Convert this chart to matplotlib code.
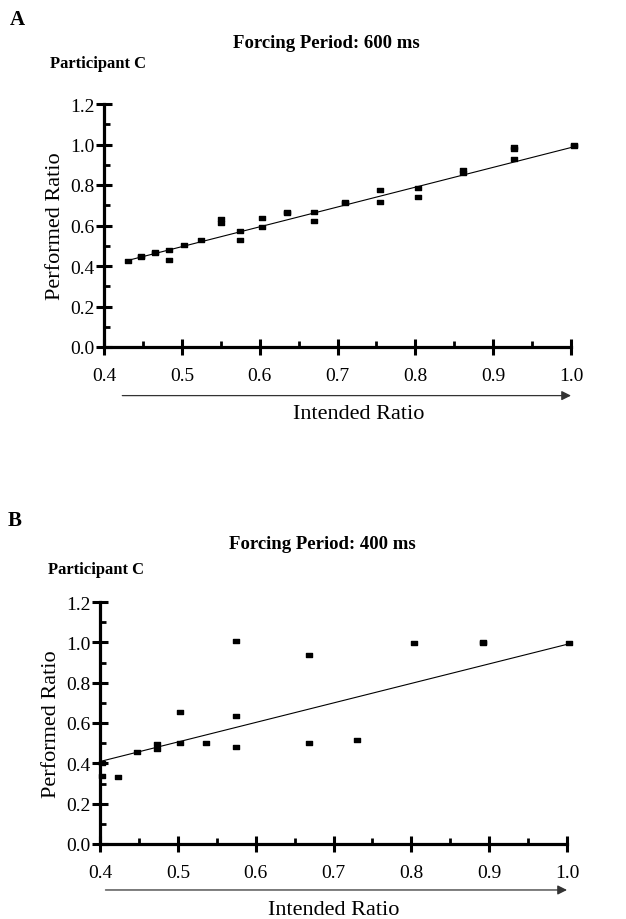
import matplotlib
matplotlib.use("Agg")
import matplotlib.pyplot as plt
from matplotlib.path import Path
from matplotlib.ticker import MultipleLocator

plt.rcParams["font.family"] = ["Liberation Serif", "DejaVu Serif"]

# --- data ------------------------------------------------------------------
a_x = [0.431, 0.447, 0.447, 0.465, 0.465, 0.483, 0.483, 0.503, 0.525,
       0.550, 0.550, 0.575, 0.575, 0.603, 0.603, 0.635, 0.635, 0.670, 0.670,
       0.709, 0.709, 0.754, 0.754, 0.804, 0.804, 0.861, 0.861,
       0.927, 0.927, 0.927, 1.004, 1.004]
a_y = [0.427, 0.445, 0.450, 0.462, 0.468, 0.477, 0.432, 0.506, 0.529,
       0.633, 0.612, 0.572, 0.526, 0.636, 0.593, 0.662, 0.666, 0.666, 0.621,
       0.712, 0.718, 0.776, 0.718, 0.784, 0.740, 0.876, 0.857,
       0.990, 0.978, 0.929, 0.993, 0.998]
a_fit_x = [0.428, 1.000]
a_fit_y = [0.425, 0.985]

b_x = [0.402, 0.402, 0.423, 0.447, 0.473, 0.473, 0.503, 0.503, 0.536,
       0.575, 0.575, 0.575, 0.669, 0.669, 0.730, 0.803, 0.892, 0.892, 1.003]
b_y = [0.339, 0.400, 0.331, 0.455, 0.497, 0.472, 0.657, 0.500, 0.500,
       1.007, 0.636, 0.483, 0.935, 0.503, 0.516, 0.995, 0.995, 1.000, 0.995]
b_fit_x = [0.400, 1.000]
b_fit_y = [0.409, 0.990]

x_ticks = [0.4, 0.5, 0.6, 0.7, 0.8, 0.9, 1.0]
y_ticks = [0.0, 0.2, 0.4, 0.6, 0.8, 1.0, 1.2]

# small flat rectangle marker, like the printed dashes
DASH = Path([(-1, -0.6), (1, -0.6), (1, 0.6), (-1, 0.6), (-1, -0.6)],
            [Path.MOVETO, Path.LINETO, Path.LINETO, Path.LINETO, Path.CLOSEPOLY])

W, H = 626, 920
fig = plt.figure(figsize=(W / 100, H / 100), dpi=100)


def _box(left, top, right, bottom):
    return [left / W, 1 - bottom / H, (right - left) / W, (bottom - top) / H]


def _panel(box, xs, ys, fx, fy, arrow_x0, arrow_y, label_x, label_y):
    ax = fig.add_axes(box)
    ax.plot(fx, fy, color="black", lw=0.8)
    ax.plot(xs, ys, ls="none", marker=DASH, ms=4.2, color="black", clip_on=False)
    ax.set_xlim(0.4, 1.0)
    ax.set_ylim(0.0, 1.2)
    for s in ("top", "right"):
        ax.spines[s].set_visible(False)
    for s in ("left", "bottom"):
        ax.spines[s].set_linewidth(2.3)
    ax.set_xticks(x_ticks)
    ax.set_xticklabels([f"{v:.1f}" for v in x_ticks])
    ax.set_yticks(y_ticks)
    ax.set_yticklabels([f"{v:.1f}" for v in y_ticks])
    ax.xaxis.set_minor_locator(MultipleLocator(0.05))
    ax.yaxis.set_minor_locator(MultipleLocator(0.1))
    ax.tick_params(which="major", direction="inout", length=11, width=2.2,
                   labelsize=14)
    ax.tick_params(axis="x", which="major", pad=9)
    ax.tick_params(axis="y", which="major", pad=1)
    ax.tick_params(which="minor", direction="in", length=4, width=2)
    ax.set_ylabel("Performed Ratio", fontsize=16, labelpad=4)
    ax.text(label_x, label_y, "Intended Ratio", transform=ax.transAxes,
            ha="center", va="center", fontsize=16)
    ax.annotate("", xy=(1.0, arrow_y), xytext=(arrow_x0, arrow_y),
                xycoords=("data", "axes fraction"),
                textcoords=("data", "axes fraction"),
                arrowprops=dict(arrowstyle="-|>", color="#333333", lw=0.9,
                                mutation_scale=14, shrinkA=0, shrinkB=0),
                annotation_clip=False)
    return ax


_panel(_box(104, 105, 571, 348), a_x, a_y, a_fit_x, a_fit_y,
       0.4235, -0.20, 0.545, -0.275)
_panel(_box(100, 603, 567, 845), b_x, b_y, b_fit_x, b_fit_y,
       0.407, -0.19, 0.50, -0.27)

bold = dict(fontweight="bold", color="black")
fig.text(10 / W, 1 - 20 / H, "A", fontsize=15, va="center", ha="left", **bold)
fig.text(326 / W, 1 - 44 / H, "Forcing Period: 600 ms", fontsize=13.5,
         ha="center", va="center", **bold)
fig.text(50 / W, 1 - 64 / H, "Participant C", fontsize=12, ha="left",
         va="center", **bold)
fig.text(8 / W, 1 - 521 / H, "B", fontsize=15, va="center", ha="left", **bold)
fig.text(322 / W, 1 - 545 / H, "Forcing Period: 400 ms", fontsize=13.5,
         ha="center", va="center", **bold)
fig.text(48 / W, 1 - 570 / H, "Participant C", fontsize=12, ha="left",
         va="center", **bold)

fig.savefig("out.png", dpi=100)
